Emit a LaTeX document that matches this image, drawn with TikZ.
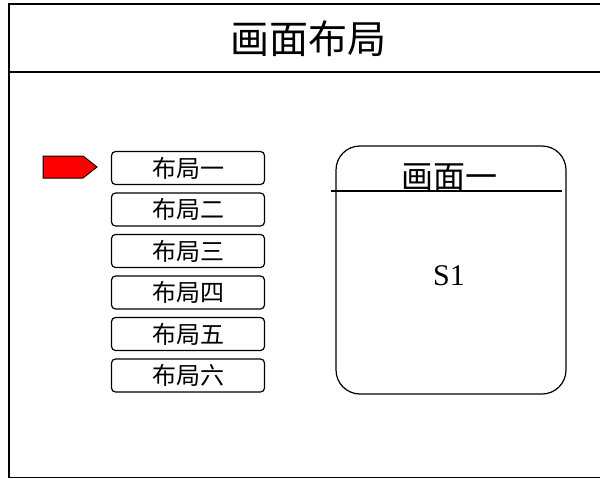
\documentclass[tikz,border=0pt]{standalone}
\usepackage{fontspec}
\setmainfont{Liberation Serif}
\newfontfamily\cjk{Noto Sans CJK SC}
\begin{document}
\begin{tikzpicture}[x=1pt,y=-1pt,
  itembox/.style={draw, line width=1.2pt, rounded corners=4pt, minimum width=153pt, minimum height=33pt, inner sep=0pt, font=\cjk\fontsize{24}{24}\selectfont},
  frameline/.style={line width=1.6pt}]
\useasboundingbox (0,0) rectangle (600,479);
\begin{scope}
\clip (0,0) rectangle (600,479);
\draw[frameline] (9,4) rectangle (620,477.5);
\end{scope}
\draw[line width=1.2pt] (9,72) -- (600,72);
\node[font=\cjk\fontsize{39}{39}\selectfont] (title) at (308,39) {画面布局};
% menu items
\node[itembox] (b1) at (188,168) {布局一};
\node[itembox] (b2) at (188,209.5) {布局二};
\node[itembox] (b3) at (188,251) {布局三};
\node[itembox] (b4) at (188,292.5) {布局四};
\node[itembox] (b5) at (188,334) {布局五};
\node[itembox] (b6) at (188,375.5) {布局六};
% red pointer
\draw[fill=red, line width=1pt] (43,156) -- (83,156) -- (97,167) -- (83,178) -- (43,178) -- cycle;
% screen
\node[draw, line width=1.2pt, rounded corners=24pt, minimum width=230pt, minimum height=248pt] (scr) at (451,270) {};
\coordinate (hl) at (331,191);
\coordinate (hr) at (562,191);
\draw[line width=1.2pt] (hl) -- (hr);
\node[font=\cjk\fontsize{32}{32}\selectfont, anchor=base] (st) at (449,188) {画面一};
\node[font=\fontsize{30}{30}\selectfont] (s1) at (449,276) {S1};
\end{tikzpicture}
\end{document}
